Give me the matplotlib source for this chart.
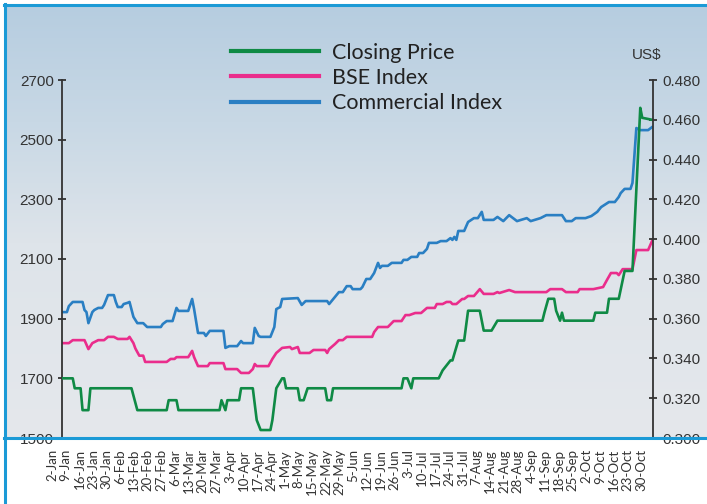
import numpy as np
import pandas as pd
import matplotlib
matplotlib.use('Agg')
import matplotlib.pyplot as plt
import matplotlib.transforms as mtransforms
from matplotlib.lines import Line2D

# weekly category labels on the x axis
week_labels = ['2-Jan', '9-Jan', '16-Jan', '23-Jan', '30-Jan', '6-Feb', '13-Feb', '20-Feb',
               '27-Feb', '6-Mar', '13-Mar', '20-Mar', '27-Mar', '3-Apr', '10-Apr', '17-Apr',
               '24-Apr', '1-May', '8-May', '15-May', '22-May', '29-May', '5-Jun', '12-Jun',
               '19-Jun', '26-Jun', '3-Jul', '10-Jul', '17-Jul', '24-Jul', '31-Jul', '7-Aug',
               '14-Aug', '21-Aug', '28-Aug', '4-Sep', '11-Sep', '18-Sep', '25-Sep', '2-Oct',
               '9-Oct', '16-Oct', '23-Oct', '30-Oct']
start = pd.Timestamp('2009-01-02')

# closing price (US$, right axis): days after 2-Jan, value
close_days = [0, 5, 6, 9, 10, 13, 14, 35, 38, 53, 54, 58, 59, 80, 81, 83, 84, 90, 91, 97,
              99, 101, 106, 107, 109, 112, 113, 114, 120, 121, 123, 125, 134, 135, 137, 138,
              173, 174, 176, 178, 179, 192, 194, 198, 199, 202, 205, 207, 213, 215, 219, 222,
              245, 246, 248, 251, 252, 254, 255, 256, 271, 272, 278, 279, 284, 287, 291, 295,
              296, 301]
close_usd = [0.330, 0.330, 0.325, 0.325, 0.314, 0.314, 0.325, 0.325, 0.314, 0.314, 0.319,
             0.319, 0.314, 0.314, 0.319, 0.314, 0.319, 0.319, 0.325, 0.325, 0.309, 0.304,
             0.304, 0.309, 0.325, 0.330, 0.330, 0.325, 0.325, 0.319, 0.319, 0.325, 0.325,
             0.319, 0.319, 0.325, 0.325, 0.330, 0.330, 0.325, 0.330, 0.330, 0.334, 0.339,
             0.339, 0.349, 0.349, 0.364, 0.364, 0.354, 0.354, 0.359, 0.359, 0.363, 0.370,
             0.370, 0.364, 0.359, 0.363, 0.359, 0.359, 0.363, 0.363, 0.370, 0.370, 0.384,
             0.384, 0.466, 0.461, 0.460]

# BSE index (left axis)
bse_days = [0, 3, 5, 11, 13, 15, 18, 21, 23, 26, 28, 33, 34, 36, 37, 39, 41, 42, 53, 55,
            57, 58, 64, 66, 67, 69, 74, 75, 82, 83, 89, 91, 95, 97, 98, 99, 105, 107, 109, 112,
            116, 117, 120, 121, 126, 128, 134, 135, 136, 139, 141, 143, 145, 158, 159, 161,
            166, 169, 173, 175, 177, 180, 183, 186, 190, 191, 194, 196, 198, 199, 201, 204,
            205, 207, 210, 213, 215, 220, 222, 223, 228, 231, 247, 249, 255, 257, 263, 264,
            271, 276, 278, 280, 283, 284, 286, 291, 293, 299, 301]
bse_vals = [1818, 1818, 1828, 1828, 1798, 1818, 1828, 1828, 1839, 1839, 1832, 1832, 1839,
            1818, 1800, 1776, 1776, 1755, 1755, 1765, 1765, 1771, 1771, 1792, 1771, 1741,
            1741, 1751, 1751, 1731, 1731, 1718, 1718, 1731, 1748, 1741, 1741, 1765, 1785,
            1802, 1805, 1798, 1805, 1785, 1785, 1795, 1795, 1785, 1798, 1815, 1828, 1828,
            1839, 1839, 1855, 1872, 1872, 1892, 1892, 1912, 1912, 1919, 1919, 1936, 1936,
            1949, 1949, 1956, 1956, 1949, 1949, 1966, 1966, 1976, 1976, 1999, 1983, 1983,
            1989, 1986, 1996, 1989, 1989, 1999, 1999, 1989, 1989, 1999, 1999, 2006, 2030,
            2053, 2053, 2046, 2066, 2066, 2130, 2130, 2160]

# Commercial index (left axis)
comm_days = [0, 2, 3, 5, 10, 11, 12, 13, 15, 16, 18, 20, 21, 23, 26, 27, 28, 30, 31, 33,
             34, 36, 38, 41, 43, 50, 51, 53, 56, 58, 59, 64, 66, 67, 69, 72, 73, 75, 82, 83,
             85, 89, 91, 92, 97, 98, 100, 101, 106, 108, 109, 111, 112, 120, 122, 124, 135,
             136, 139, 141, 143, 145, 147, 148, 152, 153, 155, 157, 159, 161, 162, 163, 166,
             168, 173, 174, 176, 178, 181, 182, 184, 186, 187, 191, 193, 196, 198, 199, 200,
             201, 202, 205, 207, 210, 212, 214, 215, 220, 222, 225, 228, 232, 237, 239, 244,
             247, 255, 257, 260, 262, 267, 270, 273, 275, 279, 282, 284, 285, 287, 290, 291,
             293, 295, 299, 301]
comm_vals = [1922, 1922, 1942, 1956, 1956, 1929, 1922, 1885, 1922, 1929, 1936, 1936, 1946,
             1979, 1979, 1956, 1939, 1939, 1949, 1953, 1956, 1906, 1885, 1885, 1872, 1872,
             1882, 1892, 1892, 1936, 1926, 1926, 1966, 1932, 1852, 1852, 1842, 1859, 1859,
             1802, 1808, 1808, 1825, 1818, 1818, 1869, 1842, 1839, 1839, 1872, 1932, 1939,
             1966, 1969, 1946, 1959, 1959, 1949, 1973, 1989, 1989, 2009, 2009, 1999, 1999,
             2006, 2033, 2033, 2053, 2087, 2070, 2077, 2077, 2087, 2087, 2097, 2097, 2107,
             2107, 2120, 2120, 2134, 2154, 2154, 2160, 2160, 2170, 2164, 2174, 2164, 2194,
             2194, 2224, 2237, 2237, 2258, 2231, 2231, 2241, 2227, 2247, 2227, 2237, 2227,
             2237, 2247, 2247, 2227, 2227, 2237, 2237, 2244, 2258, 2274, 2291, 2291, 2308,
             2321, 2335, 2335, 2355, 2539, 2532, 2532, 2542]

left_ticks = [1500, 1700, 1900, 2100, 2300, 2500, 2700]
right_ticks = [0.300, 0.320, 0.340, 0.360, 0.380, 0.400, 0.420, 0.440, 0.460, 0.480]

green = '#0f8a45'
pink = '#ea2d8c'
blue = '#2a7fc3'
border = '#1b9ad6'
dark = '#333333'

W, H = 707, 504
fig = plt.figure(figsize=(W / 100, H / 100), dpi=100)
fig.patch.set_facecolor('white')

# gradient panel behind the chart
bg = fig.add_axes([4 / W, (H - 438) / H, (W - 4) / W, (438 - 5) / H], zorder=0)
stops_y = [0.0, 0.27, 0.55, 1.0]
stops_c = np.array([[182, 205, 224], [200, 216, 229], [222, 228, 234], [229, 232, 236]]) / 255
yy = np.linspace(0, 1, 300)
grad = np.stack([np.interp(yy, stops_y, stops_c[:, k]) for k in range(3)], axis=-1)
bg.imshow(grad[:, None, :], aspect='auto', extent=[0, 1, 1, 0])
bg.axis('off')

ax = fig.add_axes([62 / W, (H - 438) / H, (653 - 62) / W, (438 - 80) / H], zorder=1)
ax.set_facecolor('none')
ax2 = ax.twinx()

def to_dates(days):
    return start + pd.to_timedelta(days, unit='D')

l_bse, = ax.plot(to_dates(bse_days), bse_vals, color=pink, lw=1.9, solid_joinstyle='round')
l_com, = ax.plot(to_dates(comm_days), comm_vals, color=blue, lw=1.9, solid_joinstyle='round')
l_cls, = ax2.plot(to_dates(close_days), close_usd, color=green, lw=1.9, solid_joinstyle='round')

ax.set_ylim(1500, 2700)
ax2.set_ylim(0.300, 0.480)
ax.set_xlim(start - pd.Timedelta(hours=12), to_dates([301])[0] + pd.Timedelta(hours=12))

for a in (ax, ax2):
    for s in a.spines.values():
        s.set_visible(False)
ax.spines['left'].set_visible(True)
ax.spines['left'].set_color(dark)
ax.spines['left'].set_linewidth(1.3)
ax2.spines['right'].set_visible(True)
ax2.spines['right'].set_color(dark)
ax2.spines['right'].set_linewidth(1.3)

ax.set_yticks(left_ticks)
ax.set_yticklabels([str(v) for v in left_ticks])
ax.tick_params(axis='y', direction='inout', length=6, width=1.3, color=dark,
               labelsize=11, labelcolor=dark, pad=3)
ax2.set_yticks(right_ticks)
ax2.set_yticklabels(['%.3f' % v for v in right_ticks])
ax2.tick_params(axis='y', direction='inout', length=6, width=1.3, color=dark,
                labelsize=11, labelcolor=dark, pad=4)
for lab in ax.get_yticklabels() + ax2.get_yticklabels():
    lab.set_family('Liberation Sans')

tick_dates = pd.date_range(start, periods=len(week_labels), freq='7D')
ax.set_xticks(tick_dates)
ax.set_xticklabels(week_labels, rotation=90, fontsize=9.5, family='Lato', color=dark)
ax.tick_params(axis='x', length=0, pad=8)
shift = mtransforms.ScaledTranslation(-11 / 100, 0, fig.dpi_scale_trans)
for lab in ax.get_xticklabels():
    lab.set_transform(lab.get_transform() + shift)

# legend
handles = [Line2D([], [], color=c, lw=3) for c in (green, pink, blue)]
leg = fig.legend(handles, ['Closing Price', 'BSE Index', 'Commercial Index'],
                 loc='upper left', bbox_to_anchor=(222 / W, 1 - 34 / H), frameon=False,
                 prop={'family': 'Lato', 'size': 15.5}, handlelength=4.1,
                 handletextpad=0.6, labelspacing=0.25, borderaxespad=0)
for t in leg.get_texts():
    t.set_color('#222222')

fig.text(647 / W, 1 - 55 / H, 'US$', ha='center', va='center', fontsize=11,
         family='Liberation Sans', color=dark)

# blue frame
fig.add_artist(Line2D([4.5 / W, 4.5 / W], [0, 1 - 4 / H], transform=fig.transFigure,
                      color=border, lw=2.2, zorder=5))
fig.add_artist(Line2D([4 / W, 1], [1 - 5 / H, 1 - 5 / H], transform=fig.transFigure,
                      color=border, lw=2.2, zorder=5))
fig.add_artist(Line2D([4 / W, 1], [(H - 438) / H, (H - 438) / H], transform=fig.transFigure,
                      color=border, lw=2.2, zorder=5))

fig.savefig('out.png', dpi=100)
